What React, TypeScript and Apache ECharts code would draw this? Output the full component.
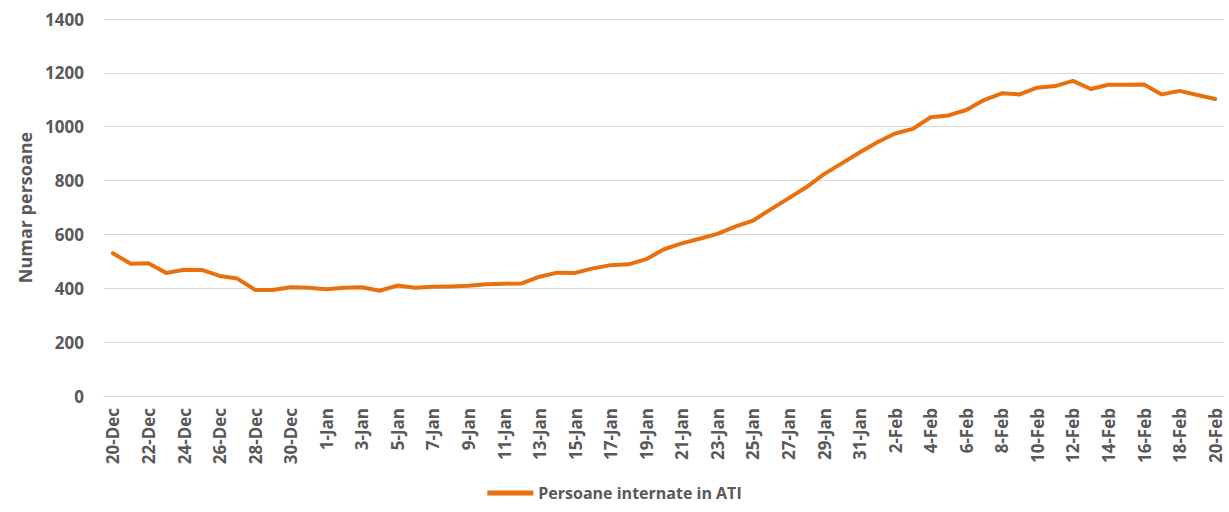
import React, { useEffect, useRef } from "react";
import * as echarts from "echarts";

const dates: string[] = [
  "20-Dec","21-Dec","22-Dec","23-Dec","24-Dec","25-Dec","26-Dec","27-Dec","28-Dec","29-Dec","30-Dec","31-Dec",
  "1-Jan","2-Jan","3-Jan","4-Jan","5-Jan","6-Jan","7-Jan","8-Jan","9-Jan","10-Jan","11-Jan","12-Jan","13-Jan","14-Jan","15-Jan","16-Jan","17-Jan","18-Jan","19-Jan","20-Jan","21-Jan","22-Jan","23-Jan","24-Jan","25-Jan","26-Jan","27-Jan","28-Jan","29-Jan","30-Jan","31-Jan",
  "1-Feb","2-Feb","3-Feb","4-Feb","5-Feb","6-Feb","7-Feb","8-Feb","9-Feb","10-Feb","11-Feb","12-Feb","13-Feb","14-Feb","15-Feb","16-Feb","17-Feb","18-Feb","19-Feb","20-Feb"
];

const persoaneInternateATI: number[] = [
  530, 491, 493, 457, 469, 468, 446, 436, 394, 394, 404, 402,
  396, 402, 404, 391, 410, 402, 406, 407, 409, 415, 417, 418, 443, 458, 457, 474, 486, 489, 508, 545, 567, 584, 602, 629, 651, 693, 734, 775, 824, 864, 904,
  942, 975, 992, 1035, 1042, 1062, 1099, 1124, 1120, 1145, 1151, 1170, 1140, 1156, 1156, 1157, 1120, 1133, 1118, 1103
];

const seriesName = "Persoane internate in ATI";
const yAxisName = "Numar persoane";

export default function App() {
  const ref = useRef<HTMLDivElement>(null);
  useEffect(() => {
    if (!ref.current) return;
    const chart = echarts.init(ref.current, undefined, { renderer: "svg" });
    const font = "'Open Sans', sans-serif";
    const textColor = "#595959";
    chart.setOption({
      animation: false,
      backgroundColor: "#ffffff",
      grid: { left: 104, right: 5, top: 19, bottom: 116, containLabel: false },
      legend: {
        bottom: 6,
        left: "center",
        itemWidth: 46,
        itemHeight: 5,
        itemGap: 4,
        icon: "rect",
        textStyle: { color: textColor, fontSize: 16, fontWeight: "bold", fontFamily: font },
        data: [seriesName],
      },
      xAxis: {
        type: "category",
        data: dates,
        boundaryGap: true,
        axisLine: { lineStyle: { color: "#D9D9D9", width: 1 } },
        axisTick: { show: false },
        axisLabel: {
          interval: 1,
          rotate: 90,
          margin: 12,
          color: textColor,
          fontSize: 17,
          fontWeight: "bold",
          fontFamily: font,
        },
      },
      yAxis: {
        type: "value",
        min: 0,
        max: 1400,
        interval: 200,
        name: yAxisName,
        nameLocation: "middle",
        nameGap: 68,
        nameTextStyle: { color: textColor, fontSize: 18, fontWeight: "bold", fontFamily: font },
        axisLine: { show: false },
        axisTick: { show: false },
        axisLabel: {
          color: textColor,
          fontSize: 17,
          fontWeight: "bold",
          fontFamily: font,
          margin: 20,
          formatter: (v: number) => String(v),
        },
        splitLine: { lineStyle: { color: "#D9D9D9", width: 1 } },
      },
      series: [
        {
          name: seriesName,
          type: "line",
          data: persoaneInternateATI,
          showSymbol: false,
          symbol: "none",
          lineStyle: { color: "#E8700E", width: 4, cap: "round", join: "round" },
          itemStyle: { color: "#E8700E" },
        },
      ],
    });
    return () => chart.dispose();
  }, []);
  return (
    <div
      ref={ref}
      style={{ position: "fixed", left: 0, top: 0, width: 1229, height: 512, background: "#fff" }}
    />
  );
}
